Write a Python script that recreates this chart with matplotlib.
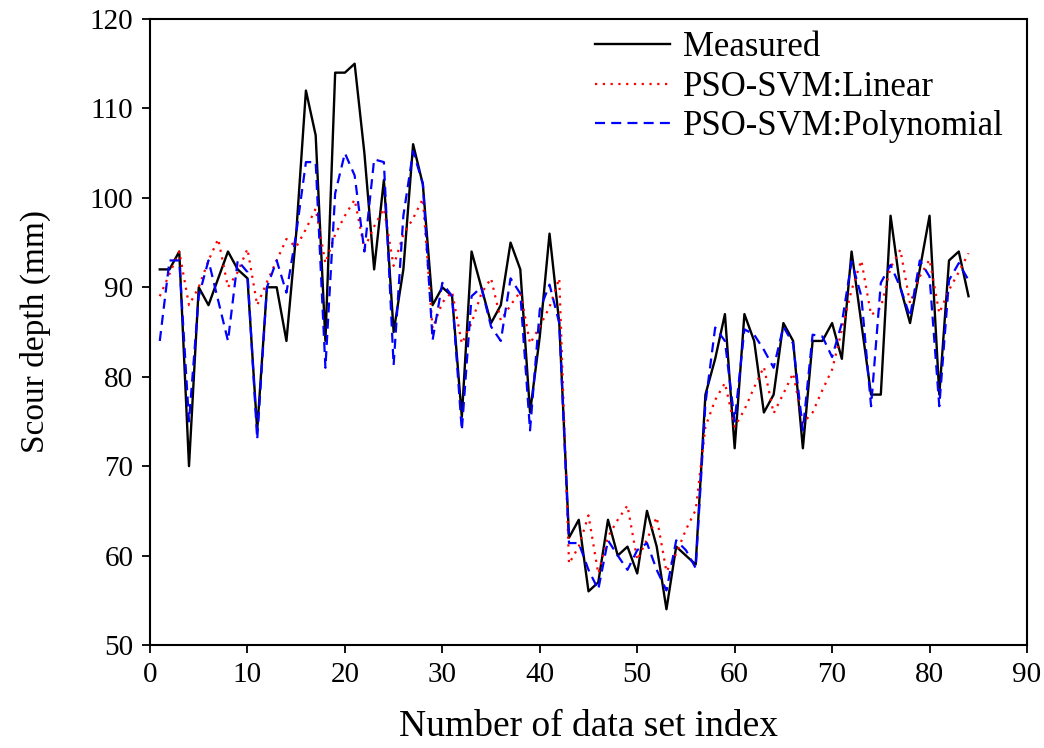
import matplotlib
matplotlib.use("Agg")
import matplotlib.pyplot as plt
import numpy as np

plt.rcParams['font.family'] = ['Liberation Serif', 'DejaVu Serif']

index = list(range(1, 85))

measured = [92, 92, 94, 70, 90, 88, 91, 94, 92, 91,
            74, 90, 90, 84, 96, 112, 107, 84, 114, 114,
            115, 105, 92, 102, 85, 92, 106, 101.5, 88, 90,
            89, 75.5, 94, 90, 86, 88, 95, 92, 76, 84.5,
            96, 86, 62, 64, 56, 57, 64, 60, 61, 58,
            65, 61, 54, 61, 60, 59, 78, 82, 87, 72,
            87, 84, 76, 78, 86, 84, 72, 84, 84, 86,
            82, 94, 86, 78, 78, 98, 90, 86, 92, 98,
            78, 93, 94, 89]

pso_linear = [89, 91.5, 94, 88, 90, 93, 95.4, 90, 91.7, 94.3,
              88, 90.6, 93, 95.4, 94.5, 96.5, 98.8, 92.7, 95.9, 98,
              99.8, 94.3, 96.8, 98.8, 92.4, 95.9, 97.7, 99.9, 85.4, 88.3,
              89.5, 83.7, 86, 89.3, 91, 86.3, 88, 89.5, 83.7, 85.6,
              87.8, 91, 59.1, 61, 64.5, 58, 62.1, 64, 65.6, 59.5,
              61.8, 64.3, 58.2, 60.2, 62.9, 65.1, 74.4, 77.4, 79.3, 74.4,
              76.3, 78.8, 81.1, 75.9, 78.1, 80.4, 74.8, 76, 78.5, 80.8,
              85.2, 89.7, 93, 86.9, 87.7, 92.2, 94.2, 88.2, 91.2, 93.1,
              87.1, 89.7, 91.7, 93.8]

pso_poly = [84, 93, 93, 75, 89, 93, 88.5, 84, 93, 91.7,
            73, 90, 93, 89.4, 96, 104, 104, 81, 100.5, 105,
            102.5, 94, 104.3, 104, 81.3, 98, 105.2, 101.6, 84.1, 90.5,
            89, 74, 89, 90, 85.6, 84, 91, 89.3, 74, 87.5,
            90.3, 86, 61.4, 61.4, 58.4, 56.2, 61.7, 60, 58.4, 60.6,
            61.4, 58.4, 56.1, 61.7, 60.6, 58.6, 77, 85.5, 84, 75,
            85.3, 84.7, 83, 81, 85.6, 83.7, 74, 84.7, 84.5, 82.2,
            86, 92.9, 89, 76.7, 90.5, 92.5, 90, 86.7, 93, 91.2,
            76.7, 90.8, 92.7, 90.8]

x_ticks = [0, 10, 20, 30, 40, 50, 60, 70, 80, 90]
y_ticks = [50, 60, 70, 80, 90, 100, 110, 120]

fig = plt.figure(figsize=(10.44, 7.48), dpi=100)
ax = fig.add_axes([0.1437, 0.1377, 0.8400, 0.8369])

ax.plot(index, measured, color='black', lw=1.7, label='Measured')
ax.plot(index, pso_linear, color='red', lw=1.6, linestyle=(0, (1, 2.5)), label='PSO-SVM:Linear')
ax.plot(index, pso_poly, color='blue', lw=1.6, linestyle=(0, (4.5, 2.8)), label='PSO-SVM:Polynomial')

ax.set_xlim(0, 90)
ax.set_ylim(50, 120)
ax.set_xticks(x_ticks)
ax.set_yticks(y_ticks)
ax.tick_params(direction='out', length=6, width=1.3, labelsize=21, pad=6)
for s in ax.spines.values():
    s.set_linewidth(1.5)

ax.set_xlabel('Number of data set index', fontsize=27, labelpad=16)
ax.set_ylabel('Scour depth (mm)', fontsize=24, labelpad=28)

leg = fig.legend(loc='upper left', bbox_to_anchor=(0.570, 0.958), frameon=False,
                 fontsize=25, handlelength=2.15, handletextpad=0.37,
                 labelspacing=0.18, borderpad=0, borderaxespad=0)

fig.savefig('out.png', dpi=100)
